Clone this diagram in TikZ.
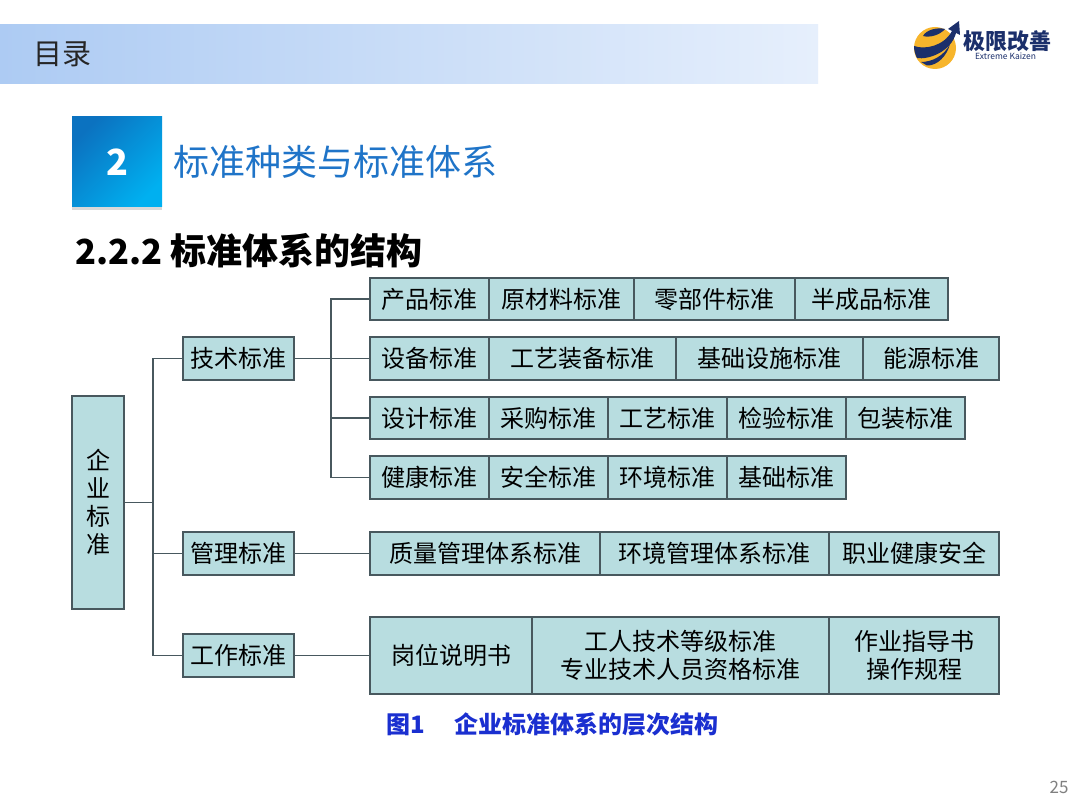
\documentclass[tikz,border=0pt]{standalone}
\usepackage{fontspec}
\setmainfont{Noto Sans CJK SC}
\usepackage{xcolor}
\usetikzlibrary{positioning}
\definecolor{cellfill}{HTML}{B8DDE0}
\definecolor{cellline}{HTML}{48585E}
\definecolor{logonavy}{HTML}{1B2F6B}
\definecolor{logoyellow}{HTML}{F7B52C}
\definecolor{barleft}{HTML}{ADCBF3}
\definecolor{barright}{HTML}{E6EFFC}
\definecolor{secdark}{HTML}{0B72C0}
\definecolor{seclight}{HTML}{00B0F0}
\definecolor{sectext}{HTML}{1F74C8}
\definecolor{captext}{HTML}{1A2FD0}
\begin{document}
\begin{tikzpicture}[
    x=1pt, y=-1pt,
    node distance=0pt,
    cell/.style={rectangle, draw=cellline, line width=1.3pt, fill=cellfill, text=black, outer sep=0pt, inner sep=0pt,
        font=\fontsize{24}{28}\selectfont, align=center, anchor=north west},
    rowa/.style={cell, minimum height=42pt},
    rowb/.style={cell, minimum height=43pt},
    rowc/.style={cell, minimum height=77pt},
    lvl/.style={rowb, minimum width=111pt},
    link/.style={draw=cellline, line width=1.3pt}
]
    \useasboundingbox (0,0) rectangle (1080,810);
    \fill[white] (0,0) rectangle (1080,810);

    % header
    \node[rectangle, minimum width=818pt, minimum height=59pt, anchor=north west, inner sep=0pt, outer sep=0pt,
        left color=barleft, right color=barright] (bar) at (0,25) {};
    \node[anchor=west, inner sep=0pt, font=\fontsize{29}{32}\selectfont, text=black!85] (toc) at (33,54) {目录};

    % logo
    \fill[logoyellow] (935,48) circle (21);
    \fill[logonavy] (914,46) .. controls (925,50) and (944,46) .. (952,31) -- (948,29) -- (959,21) -- (960,35) -- (956,33)
        .. controls (951,52) and (928,60) .. (917,58) .. controls (915,54) and (914,50) .. (914,46) -- cycle;
    \fill[logonavy] (923,36) .. controls (926,30) and (937,27) .. (945,29) .. controls (940,35) and (930,38) .. (923,36) -- cycle;
    \fill[logonavy] (921,62) .. controls (932,62) and (944,56) .. (950,44) .. controls (947,56) and (937,66) .. (927,65.5) -- cycle;
    \node[anchor=west, font=\fontsize{22}{24}\bfseries\selectfont, text=logonavy, inner sep=0pt] (brand) at (963,41) {极限改善};
    \node[anchor=west, font=\fontsize{8.5}{10}\selectfont, text=logonavy, inner sep=0pt] (brandsub) at (975,56) {Extreme Kaizen};

    % section
    \fill[black!15] (72,206) rectangle (162,210);
    \node[rectangle, minimum width=90pt, minimum height=90pt, anchor=north west, inner sep=0pt, outer sep=0pt,
        left color=secdark, right color=seclight, shading angle=45,
        text=white, font=\fontsize{36}{40}\bfseries\selectfont] (secno) at (72,117) {2};
    \node[anchor=west, inner sep=0pt, text=sectext, font=\fontsize{36}{40}\selectfont] (sectitle) at (173,162) {标准种类与标准体系};
    \node[anchor=west, inner sep=0pt, text=black, font=\fontsize{36}{40}\bfseries\selectfont] (subtitle) at (75,251) {{\fontsize{34.5}{40}\selectfont 2.2.2} 标准体系的结构};

    % root and second level
    \node[cell, minimum width=52pt, minimum height=213pt] (root) at (72,396) {企\\业\\标\\准};
    \node[lvl] (tech) at (183,337) {技术标准};
    \node[lvl] (mgmt) at (183,532) {管理标准};
    \node[lvl] (work) at (183,634) {工作标准};

    % rows
    \node[rowa, minimum width=119pt] (prod) at (370,278) {产品标准};
    \node[rowa, minimum width=145pt, right=of prod.north east, anchor=north west] (raw) {原材料标准};
    \node[rowa, minimum width=161pt, right=of raw.north east, anchor=north west] (part) {零部件标准};
    \node[rowa, minimum width=153pt, right=of part.north east, anchor=north west] (semi) {半成品标准};

    \node[rowb, minimum width=119pt] (equip) at (370,337) {设备标准};
    \node[rowb, minimum width=187pt, right=of equip.north east, anchor=north west] (tool) {工艺装备标准};
    \node[rowb, minimum width=187pt, right=of tool.north east, anchor=north west] (base) {基础设施标准};
    \node[rowb, minimum width=136pt, right=of base.north east, anchor=north west] (energy) {能源标准};

    \node[rowa, minimum width=119pt] (design) at (370,397) {设计标准};
    \node[rowa, minimum width=119pt, right=of design.north east, anchor=north west] (buy) {采购标准};
    \node[rowa, minimum width=119pt, right=of buy.north east, anchor=north west] (craft) {工艺标准};
    \node[rowa, minimum width=119pt, right=of craft.north east, anchor=north west] (check) {检验标准};
    \node[rowa, minimum width=119pt, right=of check.north east, anchor=north west] (pack) {包装标准};

    \node[rowb, minimum width=119pt] (health) at (370,456) {健康标准};
    \node[rowb, minimum width=119pt, right=of health.north east, anchor=north west] (safe) {安全标准};
    \node[rowb, minimum width=119pt, right=of safe.north east, anchor=north west] (env) {环境标准};
    \node[rowb, minimum width=119pt, right=of env.north east, anchor=north west] (basic) {基础标准};

    \node[rowb, minimum width=230pt] (qms) at (370,532) {质量管理体系标准};
    \node[rowb, minimum width=229pt, right=of qms.north east, anchor=north west] (ems) {环境管理体系标准};
    \node[rowb, minimum width=170pt, right=of ems.north east, anchor=north west] (ohs) {职业健康安全};

    \node[rowc, minimum width=162pt] (post) at (370,617) {岗位说明书};
    \node[rowc, minimum width=297pt, right=of post.north east, anchor=north west] (grade) {工人技术等级标准\\专业技术人员资格标准};
    \node[rowc, minimum width=170pt, right=of grade.north east, anchor=north west] (guide) {作业指导书\\操作规程};

    % connectors
    \coordinate (trunk) at (153,502.5);
    \coordinate (bus) at (331,358.5);
    \draw[link] (root.east) -- (trunk);
    \draw[link] (tech.west) -| (trunk) |- (work.west);
    \draw[link] (trunk |- mgmt.west) -- (mgmt.west);
    \draw[link] (tech.east) -- (equip.west);
    \draw[link] (prod.west) -| (bus) |- (health.west);
    \draw[link] (bus |- design.west) -- (design.west);
    \draw[link] (mgmt.east) -- (qms.west);
    \draw[link] (work.east) -- (post.west);

    % caption and page number
    \node[inner sep=0pt, text=captext, font=\fontsize{24}{28}\bfseries\selectfont] (caption) at (552.5,724) {图1\hspace{29pt}企业标准体系的层次结构};
    \node[inner sep=0pt, text=black!50, font=\fontsize{17}{20}\selectfont] (pageno) at (1059,787) {25};
\end{tikzpicture}
\end{document}
